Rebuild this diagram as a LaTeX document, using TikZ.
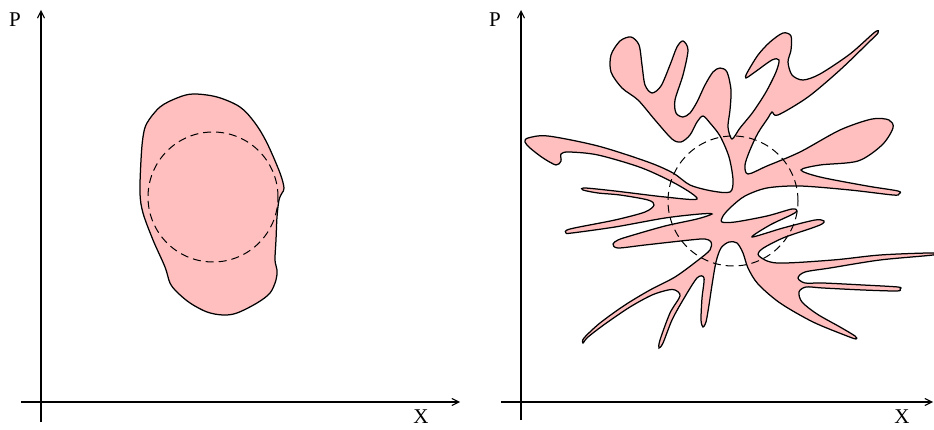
\documentclass[tikz,border=0pt]{standalone}
\usepackage{fontspec}
\setmainfont{Liberation Serif}
\usetikzlibrary{arrows.meta}

\definecolor{blobpink}{RGB}{255,191,191}

\tikzset{
  axis/.style={line width=1.1pt, -{Straight Barb[length=7pt,width=7pt]}},
  blob/.style={fill=blobpink, draw=black, line width=1.25pt},
  ring/.style={draw, circle, dash pattern=on 8pt off 5pt, line width=1pt,
    minimum size=130pt, inner sep=0pt},
  lbl/.style={font=\fontsize{21}{21}\selectfont, inner sep=0pt},
}

\begin{document}
\begin{tikzpicture}[x=1pt, y=-1pt]
  \useasboundingbox (0,0) rectangle (934,430);

  % left panel: compact region
  \draw[blob] plot[smooth cycle, tension=0.55] coordinates {
    (143,137) (147,123) (160,107) (177,98) (193,94) (217,97) (240,107)
    (255,123) (267,143) (280,173) (284,188) (282,193) (279,200) (277,217)
    (276,240) (275,260) (277,270) (276,280) (270,293) (257,303) (237,313)
    (223,315) (207,312) (190,303) (177,292) (170,283) (165,267) (153,240)
    (143,213) (140,193) (141,160)};
  \node[ring] (c1) at (213,197) {};

  \coordinate (yb1) at (41,422);
  \coordinate (yt1) at (41,10);
  \coordinate (xl1) at (21,402);
  \coordinate (xr1) at (460,402);
  \draw[axis] (yb1) -- (yt1);
  \draw[axis] (xl1) -- (xr1);
  \node[lbl] (p1) at (15,20) {P};
  \node[lbl] (x1) at (421,417) {X};

  % right panel: filamented region
  \draw[blob] plot[smooth cycle, tension=0.5] coordinates {
    (525,142) (528,138) (548,136) (598,146) (648,162) (673,173) (690,185)
    (712,191) (730,192)
    (733,180) (729,157) (720,136) (710,123) (703,116)
    (697,122) (690,135) (681,142) (672,139)
    (655,120) (638,100) (622,88) (611,72) (611,55) (620,41) (631,37)
    (639,45) (642,65) (645,85) (652,93) (661,86) (670,65) (677,47)
    (683,41) (688,50) (683,75) (675,100) (676,113) (683,117) (690,113)
    (697,102) (705,85) (713,72) (720,68) (727,72) (731,90) (730,110)
    (728,127) (732,139)
    (740,128) (753,112) (766,92) (776,72) (779,60) (772,60) (755,72)
    (746,78) (747,73) (758,55) (770,42) (783,33) (791,36) (791,50)
    (788,62) (792,75) (803,80) (820,74) (850,54) (875,32) (878,33)
    (868,43) (840,70) (808,97) (778,115) (772,112) (768,118) (758,133)
    (750,150) (745,165) (748,174)
    (767,166) (800,152) (840,130) (872,119) (889,120) (893,128) (882,145)
    (858,161) (820,165) (801,170)
    (820,177) (867,186) (898,191) (899,194) (893,195) (850,190) (800,186)
    (767,188) (745,196) (731,207) (723,216) (722,222)
    (735,222) (767,216) (792,209) (797,211) (791,215) (770,225) (752,237)
    (783,228) (815,220) (824,221) (822,224) (812,228) (783,238) (762,249)
    (759,256)
    (777,263) (833,260) (880,255) (930,253) (933,255) (880,260) (830,268)
    (805,272) (798,278)
    (805,283) (823,283) (863,285) (898,287) (900,289) (897,291) (863,290)
    (823,288) (806,287) (799,292)
    (802,302) (817,314) (840,327) (855,336) (856,339) (847,336) (813,322)
    (780,303) (758,284) (748,268) (743,253)
    (737,243) (729,242) (721,248) (716,262)
    (712,285) (709,305) (706,322) (703,327) (701,320) (702,298) (704,278)
    (697,278) (683,300) (672,320) (663,343) (659,348) (660,340) (670,313)
    (680,296) (675,290)
    (668,290) (652,295) (630,307) (605,324) (588,337) (583,343)
    (584,338) (600,323) (625,305) (650,290) (675,277) (697,261) (710,250)
    (711,242)
    (705,239) (690,240) (645,245) (618,248) (613,244) (618,240) (630,236)
    (665,226) (697,219) (712,214)
    (700,214) (665,218) (615,227) (572,233) (566,233) (570,229) (615,220)
    (645,212) (654,205) (648,200)
    (620,195) (598,193) (583,190) (585,188) (615,191) (665,197) (697,199)
    (678,185) (642,168) (598,155) (569,152) (561,154) (561,161) (556,165)
    (543,158) (530,148)};
  \node[ring] (c2) at (733,201) {};

  \coordinate (yb2) at (521,420);
  \coordinate (yt2) at (521,10);
  \coordinate (xl2) at (501,402);
  \coordinate (xr2) at (933,402);
  \draw[axis] (yb2) -- (yt2);
  \draw[axis] (xl2) -- (xr2);
  \node[lbl] (p2) at (495,20) {P};
  \node[lbl] (x2) at (902,417) {X};
\end{tikzpicture}
\end{document}
